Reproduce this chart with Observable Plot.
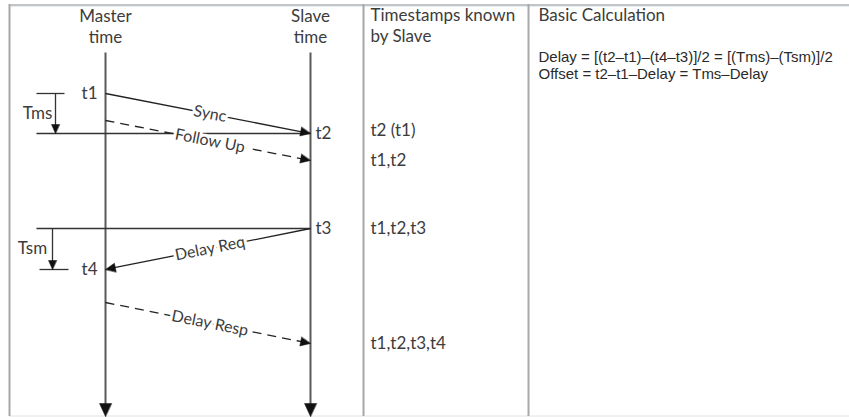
<!DOCTYPE html>
<html>
<head>
<meta charset="utf-8">
<script src="https://cdn.jsdelivr.net/npm/d3@7"></script>
<script src="https://cdn.jsdelivr.net/npm/@observablehq/plot@0.6"></script>
<style>
  html, body { margin: 0; padding: 0; background: #fff; }
  #chart svg { display: block; }
</style>
</head>
<body>
<div id="chart"></div>
<script>
// ---------- data ----------
const lanes = ["Master", "Slave"];
const laneTitles = ["Master\ntime", "Slave\ntime"];
const events = [
  {name: "t1", lane: "Master", time: 93},
  {name: "t2", lane: "Slave", time: 133},
  {name: "t3", lane: "Slave", time: 228},
  {name: "t4", lane: "Master", time: 269}
];
const messages = [
  {label: "Sync", from: "Master", to: "Slave", sent: 93, recv: 133, dashed: false},
  {label: "Follow Up", from: "Master", to: "Slave", sent: 120, recv: 160, dashed: true},
  {label: "Delay Req", from: "Slave", to: "Master", sent: 228, recv: 269, dashed: false},
  {label: "Delay Resp", from: "Master", to: "Slave", sent: 302, recv: 343, dashed: true}
];
const intervals = [
  {label: "Tms", start: 93, end: 133},
  {label: "Tsm", start: 228, end: 269}
];
const knownTimes = [130, 160, 228, 343];
const knownLabels = ["t2 (t1)", "t1,t2", "t1,t2,t3", "t1,t2,t3,t4"];
const columnHeaders = ["Timestamps known\nby Slave", "Basic Calculation"];
const formulas = [
  "Delay = [(t2\u2013t1)\u2013(t4\u2013t3)]/2 = [(Tms)\u2013(Tsm)]/2",
  "Offset = t2\u2013t1\u2013Delay = Tms\u2013Delay"
];

// ---------- layout ----------
const W = 849, H = 417;
const laneX = {Master: 105, Slave: 310};
const laneTop = 52, laneBottom = 416;
const colX = [9, 363, 528];          // table column borders
const colTextX = [370, 538];
const bracketX = {Tms: 55, Tsm: 52};
const bracketLabelX = {Tms: 37, Tsm: 32};
const ink = "#3c3c3c";

// arrowhead polygon helper (computed from segment endpoints)
function head(id, x1, y1, x2, y2, L, Wd) {
  const dx = x2 - x1, dy = y2 - y1, len = Math.hypot(dx, dy);
  const ux = dx / len, uy = dy / len, nx = -uy, ny = ux;
  const bx = x2 - L * ux, by = y2 - L * uy;
  return [
    {id, x: x2, y: y2},
    {id, x: bx + Wd * nx, y: by + Wd * ny},
    {id, x: bx - Wd * nx, y: by - Wd * ny}
  ];
}
function trim(x1, y1, x2, y2, L) {
  const dx = x2 - x1, dy = y2 - y1, len = Math.hypot(dx, dy);
  return {x1, y1, x2: x2 - (L - 1) * dx / len, y2: y2 - (L - 1) * dy / len};
}

// lanes
const laneLines = lanes.map(l => ({...trim(laneX[l], laneTop, laneX[l], laneBottom, 13)}));
const heads = [];
lanes.forEach(l => heads.push(...head("lane" + l, laneX[l], laneTop, laneX[l], laneBottom, 13, 6)));

// messages
const msgSegs = messages.map(m => {
  const x1 = laneX[m.from], x2 = laneX[m.to];
  const s = trim(x1, m.sent, x2, m.recv, 10);
  const xl = Math.min(x1, x2), xr = Math.max(x1, x2);
  const yl = x1 < x2 ? m.sent : m.recv, yr = x1 < x2 ? m.recv : m.sent;
  const mx = (xl + xr) / 2 + 2;
  const my = yl + (yr - yl) * (mx - xl) / (xr - xl);
  const angle = Math.atan2(yr - yl, xr - xl) * 180 / Math.PI;
  heads.push(...head("msg" + m.label, x1, m.sent, x2, m.recv, 10, 4.5));
  return {...s, dashed: m.dashed, label: m.label, mx, my, angle};
});

// intervals (Tms / Tsm brackets)
const brSegs = intervals.map(iv => {
  const bx = bracketX[iv.label];
  heads.push(...head("br" + iv.label, bx, iv.start, bx, iv.end, 9, 4));
  return {...trim(bx, iv.start, bx, iv.end, 9), label: iv.label, lx: bracketLabelX[iv.label], ly: (iv.start + iv.end) / 2};
});
const brTicks = [
  {x1: 36, x2: 64, y: intervals[0].start},
  {x1: 36, x2: laneX.Slave, y: intervals[0].end},
  {x1: 36, x2: laneX.Slave, y: intervals[1].start},
  {x1: 39, x2: 68, y: intervals[1].end}
];

// event labels
const evLabels = events.map(e => ({
  text: e.name,
  x: e.lane === "Master" ? laneX.Master - 8 : laneX.Slave + 5,
  y: e.time,
  anchor: e.lane === "Master" ? "end" : "start"
}));

const chart = Plot.plot({
  width: W, height: H, margin: 0,
  x: {domain: [0, W], range: [0, W], axis: null},
  y: {domain: [0, H], range: [0, H], axis: null},
  style: {fontFamily: "Lato, 'Open Sans', sans-serif", background: "#fff", overflow: "visible"},
  marks: [
    // table frame
    Plot.ruleY([4.5], {x1: colX[0], x2: W, stroke: "#c4c4c4", strokeWidth: 2}),
    Plot.ruleY([6], {x1: colX[0], x2: W, stroke: "#e4eef8", strokeWidth: 1}),
    Plot.ruleY([415.5], {x1: colX[0], x2: W, stroke: "#e2e2e2", strokeWidth: 1}),
    Plot.ruleX(colX, {y1: 4, y2: 416, stroke: "#a8a8a8", strokeWidth: 2}),
    // lanes
    Plot.link(laneLines, {x1: "x1", y1: "y1", x2: "x2", y2: "y2", stroke: "#5a5a5a", strokeWidth: 2}),
    // bracket lines
    Plot.link(brTicks, {x1: "x1", x2: "x2", y1: "y", y2: "y", stroke: "#333", strokeWidth: 1.3}),
    Plot.link(brSegs, {x1: "x1", y1: "y1", x2: "x2", y2: "y2", stroke: "#333", strokeWidth: 1.3}),
    // messages
    Plot.link(msgSegs.filter(d => !d.dashed), {x1: "x1", y1: "y1", x2: "x2", y2: "y2", stroke: "#222", strokeWidth: 1.3}),
    Plot.link(msgSegs.filter(d => d.dashed), {x1: "x1", y1: "y1", x2: "x2", y2: "y2", stroke: "#222", strokeWidth: 1.3, strokeDasharray: "9,6"}),
    // arrowheads
    Plot.line(heads, {x: "x", y: "y", z: "id", fill: "#111", stroke: "#111", strokeWidth: 0.5, curve: "linear-closed"}),
    // message labels
    Plot.text(msgSegs, {x: "mx", y: "my", text: "label", rotate: "angle", fontSize: 16, fill: ink, stroke: "white", strokeWidth: 6, paintOrder: "stroke"}),
    // event labels
    Plot.text(evLabels.filter(d => d.anchor === "end"), {x: "x", y: "y", text: "text", textAnchor: "end", fontSize: 17, fill: ink}),
    Plot.text(evLabels.filter(d => d.anchor === "start"), {x: "x", y: "y", text: "text", textAnchor: "start", fontSize: 17, fill: ink}),
    // interval labels
    Plot.text(brSegs, {x: "lx", y: "ly", text: "label", fontSize: 17, fill: ink, stroke: "white", strokeWidth: 3, paintOrder: "stroke"}),
    // lane titles
    Plot.text(lanes, {x: d => laneX[d], y: 25.5, text: (d, i) => laneTitles[i], fontSize: 17, lineHeight: 1.25, fill: ink}),
    // column headers
    Plot.text(columnHeaders, {x: (d, i) => colTextX[i], y: 15, text: d => d, textAnchor: "start", lineAnchor: "top", dy: -10, fontSize: 17, lineHeight: 1.25, fill: ink}),
    // timestamps known
    Plot.text(knownLabels, {x: colTextX[0], y: (d, i) => knownTimes[i], text: d => d, textAnchor: "start", fontSize: 17, fill: ink}),
    // formulas
    Plot.text(formulas, {x: colTextX[1], y: (d, i) => 57 + i * 17, text: d => d, textAnchor: "start", fontFamily: "'Liberation Sans', Arial, sans-serif", fontSize: 15, fill: "#2a2a2a"})
  ]
});
document.getElementById("chart").appendChild(chart);
</script>
</body>
</html>
